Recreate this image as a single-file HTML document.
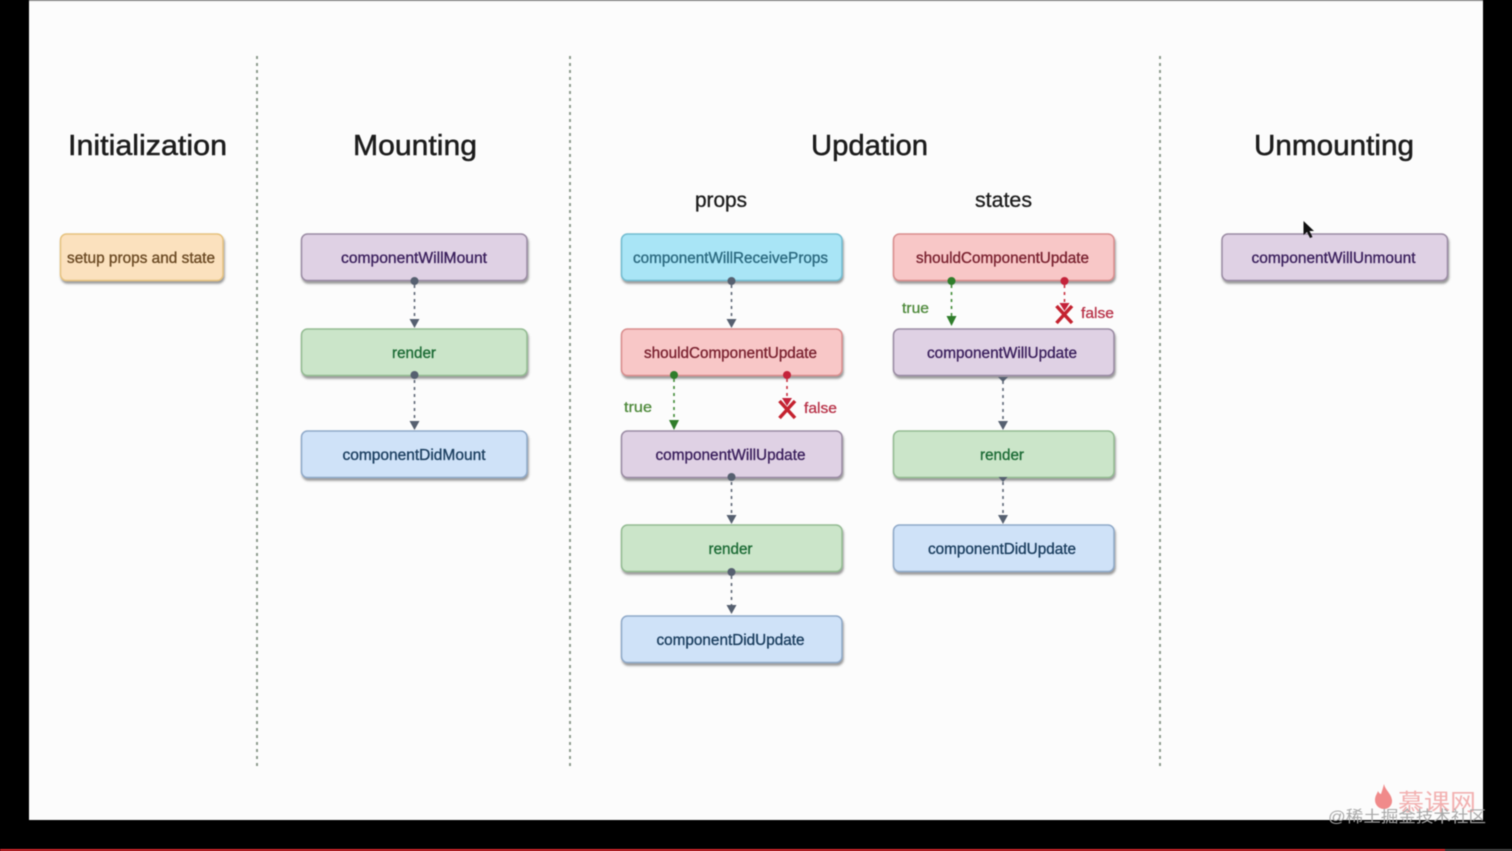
<!DOCTYPE html>
<html><head><meta charset="utf-8"><style>
html,body{margin:0;padding:0;background:#000;width:1512px;height:851px;overflow:hidden}
svg{display:block;filter:blur(.6px)}
text{font-family:"Liberation Sans","Noto Sans CJK SC",sans-serif}
.t{font-size:29px;fill:#1c1c1c;text-anchor:middle;stroke:#1c1c1c;stroke-width:.5px}
.s{font-size:21px;fill:#1c1c1c;text-anchor:middle;stroke:#1c1c1c;stroke-width:.3px}
.b{font-size:15.5px;text-anchor:middle;stroke-width:.35px}
.d{stroke-dasharray:3 4;stroke-width:1.6;fill:none}
</style></head><body>
<svg width="1512" height="851" viewBox="0 0 1512 851" xmlns="http://www.w3.org/2000/svg">
<rect width="1512" height="851" fill="#000"/>
<rect x="29" y="0" width="1454" height="820" fill="#fcfcfc"/>
<rect x="29" y="0" width="1454" height="1.5" fill="#c8c8c8"/>
<rect x="0" y="849" width="1445" height="2" fill="#d8262c"/>
<rect x="1445" y="849" width="67" height="2" fill="#444"/>
<g stroke="#8d9b8d" stroke-width="2" stroke-dasharray="3 4"><path d="M257 56V766M570 56V766M1160 56V766"/></g>
<text class="t" x="147.500" y="155" textLength="159" lengthAdjust="spacingAndGlyphs">Initialization</text>
<text class="t" x="415" y="155" textLength="124" lengthAdjust="spacingAndGlyphs">Mounting</text>
<text class="t" x="869.500" y="155" textLength="117" lengthAdjust="spacingAndGlyphs">Updation</text>
<text class="t" x="1334" y="155" textLength="160" lengthAdjust="spacingAndGlyphs">Unmounting</text>
<text class="s" x="721" y="207" textLength="52" lengthAdjust="spacingAndGlyphs">props</text>
<text class="s" x="1003.500" y="207" textLength="57" lengthAdjust="spacingAndGlyphs">states</text>

<defs>
<filter id="sh" x="-5%" y="-10%" width="110%" height="130%"><feDropShadow dx="1" dy="2.500" stdDeviation="1" flood-color="#555" flood-opacity=".6"/></filter>
</defs>
<g filter="url(#sh)" stroke-width="1.500">
<rect x="60.500" y="234" width="162.500" height="46.500" rx="6" fill="#fbe1be" stroke="#e6c27e"/>
<rect x="301.500" y="234" width="225.500" height="46.500" rx="6" fill="#dfd1e4" stroke="#9a8ba3"/>
<rect x="301.500" y="329" width="225.500" height="46.500" rx="6" fill="#cbe5c9" stroke="#93bb92"/>
<rect x="301.500" y="431" width="225.500" height="46.500" rx="6" fill="#cfe2f8" stroke="#8fa9c8"/>
<rect x="621.500" y="234" width="220.500" height="46.500" rx="6" fill="#a9e5f6" stroke="#72bcd0"/>
<rect x="621.500" y="329" width="220.500" height="46.500" rx="6" fill="#f8c7c7" stroke="#d98d8d"/>
<rect x="621.500" y="431" width="220.500" height="46.500" rx="6" fill="#dfd1e4" stroke="#9a8ba3"/>
<rect x="621.500" y="525" width="220.500" height="46.500" rx="6" fill="#cbe5c9" stroke="#93bb92"/>
<rect x="621.500" y="616" width="220.500" height="46.500" rx="6" fill="#cfe2f8" stroke="#8fa9c8"/>
<rect x="893.500" y="234" width="220.500" height="46.500" rx="6" fill="#f8c7c7" stroke="#d98d8d"/>
<rect x="893.500" y="329" width="220.500" height="46.500" rx="6" fill="#dfd1e4" stroke="#9a8ba3"/>
<rect x="893.500" y="431" width="220.500" height="46.500" rx="6" fill="#cbe5c9" stroke="#93bb92"/>
<rect x="893.500" y="525" width="220.500" height="46.500" rx="6" fill="#cfe2f8" stroke="#8fa9c8"/>
<rect x="1222" y="234" width="225.500" height="46.500" rx="6" fill="#dfd1e4" stroke="#9a8ba3"/>
</g>

<g class="labels">
<text class="b" x="141" y="263" textLength="148" lengthAdjust="spacingAndGlyphs" fill="#6b4a24" stroke="#6b4a24">setup props and state</text>
<text class="b" x="414" y="263" textLength="146" lengthAdjust="spacingAndGlyphs" fill="#3a1f5c" stroke="#3a1f5c">componentWillMount</text>
<text class="b" x="414" y="358" textLength="44" lengthAdjust="spacingAndGlyphs" fill="#1c6b35" stroke="#1c6b35">render</text>
<text class="b" x="414" y="460" textLength="143" lengthAdjust="spacingAndGlyphs" fill="#1c3f60" stroke="#1c3f60">componentDidMount</text>
<text class="b" x="730.500" y="263" textLength="195" lengthAdjust="spacingAndGlyphs" fill="#2c6a80" stroke="#2c6a80">componentWillReceiveProps</text>
<text class="b" x="730.500" y="358" textLength="173" lengthAdjust="spacingAndGlyphs" fill="#7a2230" stroke="#7a2230">shouldComponentUpdate</text>
<text class="b" x="730.500" y="460" textLength="150" lengthAdjust="spacingAndGlyphs" fill="#3a1f5c" stroke="#3a1f5c">componentWillUpdate</text>
<text class="b" x="730.500" y="554" textLength="44" lengthAdjust="spacingAndGlyphs" fill="#1c6b35" stroke="#1c6b35">render</text>
<text class="b" x="730.500" y="645" textLength="148" lengthAdjust="spacingAndGlyphs" fill="#1c3f60" stroke="#1c3f60">componentDidUpdate</text>
<text class="b" x="1002.500" y="263" textLength="173" lengthAdjust="spacingAndGlyphs" fill="#7a2230" stroke="#7a2230">shouldComponentUpdate</text>
<text class="b" x="1002" y="358" textLength="150" lengthAdjust="spacingAndGlyphs" fill="#3a1f5c" stroke="#3a1f5c">componentWillUpdate</text>
<text class="b" x="1002" y="460" textLength="44" lengthAdjust="spacingAndGlyphs" fill="#1c6b35" stroke="#1c6b35">render</text>
<text class="b" x="1002" y="554" textLength="148" lengthAdjust="spacingAndGlyphs" fill="#1c3f60" stroke="#1c3f60">componentDidUpdate</text>
<text class="b" x="1333.500" y="263" textLength="164" lengthAdjust="spacingAndGlyphs" fill="#3a1f5c" stroke="#3a1f5c">componentWillUnmount</text>
</g>

<!-- gray connectors -->
<g stroke="#5d6675" class="d"><path d="M414.500 285V319M414.500 380V421M731.500 285V319M731.500 482V515M731.500 576V606M1003 381V421M1003 482V515"/></g>
<g fill="#566070">
<circle cx="414.500" cy="281" r="4"/><circle cx="414.500" cy="375" r="4"/><circle cx="731.500" cy="281" r="4"/><circle cx="731.500" cy="477" r="4"/><circle cx="731.500" cy="572" r="4"/>
<path d="M409.500 319h10l-5 9zM409.500 421h10l-5 9zM726.500 319h10l-5 9zM726.500 515h10l-5 9zM726.500 605h10l-5 9zM998 421h10l-5 9zM998 515h10l-5 9zM998 377h10l-5 5z"/>
<path d="M998.500 477h9l-4.500 5z"/>
</g>

<!-- green connectors -->
<g stroke="#3f8a35" class="d"><path d="M674 379V420M951.500 285V316"/></g>
<g fill="#2f7d2a"><circle cx="674" cy="375" r="4"/><circle cx="951.500" cy="281" r="4"/><path d="M669 420h10l-5 10zM946.500 316h10l-5 10z"/></g>
<text x="624" y="412" font-size="14.500" fill="#4f8a3c" stroke="#4f8a3c" stroke-width=".3" textLength="28" lengthAdjust="spacingAndGlyphs">true</text>
<text x="902" y="313" font-size="14.500" fill="#4f8a3c" stroke="#4f8a3c" stroke-width=".3" textLength="27" lengthAdjust="spacingAndGlyphs">true</text>

<!-- red connectors -->
<g stroke="#c9303f" class="d"><path d="M787 379V398M1064.500 285V303"/></g>
<g fill="#c4223a"><circle cx="787" cy="375" r="4"/><circle cx="1064.500" cy="281" r="4"/><path d="M782 398h10l-5 8zM1059.500 303h10l-5 8z"/></g>
<g stroke="#c4222f" stroke-width="3.500" fill="none"><path d="M779.500 401L795 418M795 401L779.500 418M1056.500 306L1072 323M1072 306L1056.500 323"/></g>
<text x="804" y="413" font-size="15" fill="#b83248" stroke="#b83248" stroke-width=".3" textLength="33" lengthAdjust="spacingAndGlyphs">false</text>
<text x="1081" y="318" font-size="15" fill="#b83248" stroke="#b83248" stroke-width=".3" textLength="33" lengthAdjust="spacingAndGlyphs">false</text>

<!-- cursor -->
<path d="M1303.500 221v14l3.500-3 3 6 2.500-1-3-6h4.500z" fill="#111"/>

<!-- watermarks -->
<path d="M1384 784c1 6 7 9 8 16 .5 5-3 9-8 9s-9-4-9-9c0-4 2-6 3-9 1 2 2 3 3 3 1-3 2-6 3-10z" fill="#f08a8a"/>
<text x="1398" y="810" font-size="23" fill="#f2b0b0" textLength="78" lengthAdjust="spacingAndGlyphs">慕课网</text>
<text x="1328" y="822" font-size="16" fill="#a8a8a8" textLength="158" lengthAdjust="spacingAndGlyphs">@稀土掘金技术社区</text>
</svg>
</body></html>
